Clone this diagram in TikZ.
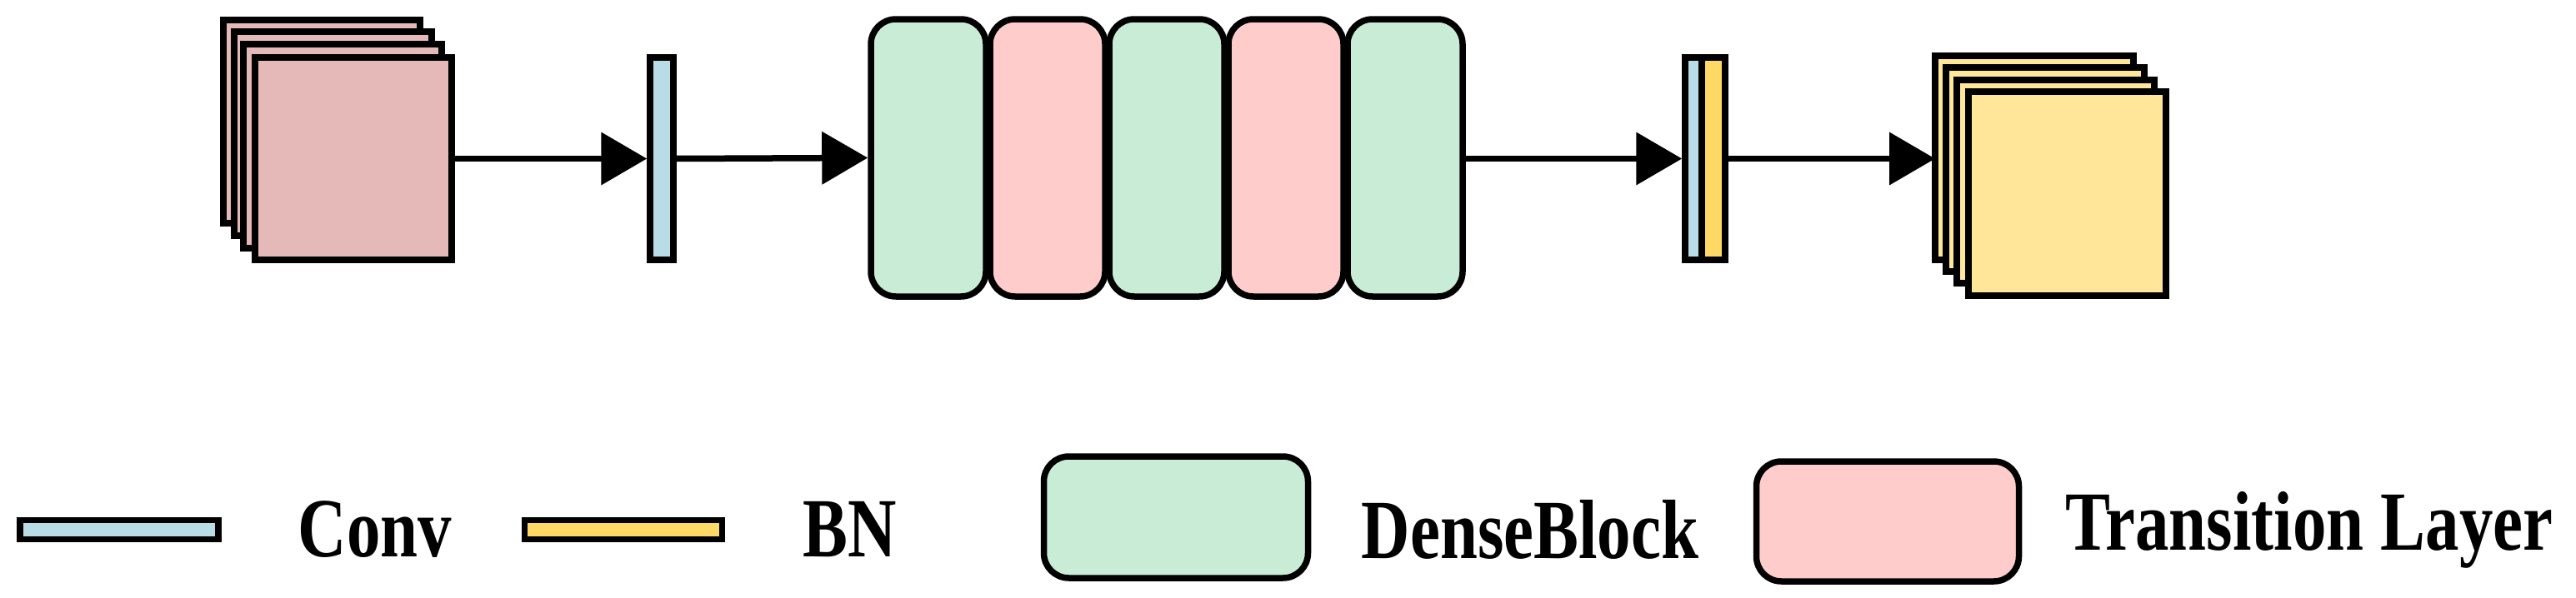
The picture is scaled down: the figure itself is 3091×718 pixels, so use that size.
\documentclass[tikz,border=0pt]{standalone}
\usepackage{fontspec}
\setmainfont{Liberation Serif}
\usetikzlibrary{arrows.meta}
\definecolor{pinkA}{HTML}{E5B9B7}
\definecolor{blueC}{HTML}{B8DDE6}
\definecolor{yelB}{HTML}{FFD966}
\definecolor{yelO}{HTML}{FFE699}
\definecolor{greenD}{HTML}{C8ECD6}
\definecolor{pinkT}{HTML}{FFCCCC}
\begin{document}
\begin{tikzpicture}[x=0.1mm,y=-0.1mm,line width=0.75mm,
  box/.style={draw,inner sep=0,minimum width=#1},
  blk/.style={draw,inner sep=0,rounded corners=3mm,minimum width=13.8mm,minimum height=33.3mm},
  arr/.style={-{Triangle[length=5.5mm,width=6.2mm]}},
  lab/.style={font=\fontsize{23}{23}\selectfont\bfseries,inner sep=0}]
\useasboundingbox (0,0) rectangle (3091,718);
% input stack
\draw[fill=pinkA] (268,24) rectangle (504,268);
\draw[fill=pinkA] (281,38) rectangle (518,283);
\draw[fill=pinkA] (292,53) rectangle (530,298);
\node[box=23.6mm,minimum height=24.3mm,fill=pinkA] (in1) at (424,190.5) {};
% conv
\node[box=2.8mm,minimum height=24.3mm,fill=blueC] (c1) at (794,190.5) {};
% dense/transition
\node[blk,fill=greenD] (d1) at (1114,189.5) {};
\node[blk,fill=pinkT]  (d2) at (1257,189.5) {};
\node[blk,fill=greenD] (d3) at (1400,189.5) {};
\node[blk,fill=pinkT]  (d4) at (1543,189.5) {};
\node[blk,fill=greenD] (d5) at (1686,189.5) {};
% conv + bn
\node[box=2.0mm,minimum height=24.3mm,fill=blueC] (cb) at (2032,190.5) {};
\node[box=2.8mm,minimum height=24.3mm,fill=yelB] (bn) at (2056,190.5) {};
% output stack
\draw[fill=yelO] (2322,67) rectangle (2560,312);
\draw[fill=yelO] (2335,81) rectangle (2573,326);
\draw[fill=yelO] (2348,96) rectangle (2585,340);
\node[box=23.7mm,minimum height=24.5mm,fill=yelO] (out) at (2480.5,232.5) {};
% arrows
\draw[arr] (in1.east |- c1) -- (c1.west);
\draw[arr] (c1.east) -- (d1.west);
\draw[arr] (d5.east |- cb) -- (cb.west);
\draw[arr] (bn.east) -- (bn.east -| 2322,0);
% legend
\node[box=23.8mm,minimum height=2.3mm,fill=blueC] (lc) at (143,636) {};
\node[lab] (tc) at (450,636) {\scalebox{1}[1.25]{Conv}};
\node[box=23.7mm,minimum height=2.3mm,fill=yelB] (lb) at (748,636) {};
\node[lab] (tb) at (1020,636) {\scalebox{1}[1.25]{BN}};
\node[blk,minimum width=31.7mm,minimum height=14.6mm,fill=greenD] (ld) at (1411,621) {};
\node[lab] (td) at (1836,636) {\scalebox{1}[1.25]{DenseBlock}};
\node[blk,minimum width=31.5mm,minimum height=14.4mm,fill=pinkT] (lt) at (2265,626) {};
\node[lab] (tt) at (2771,636) {\scalebox{1}[1.25]{Transition Layer}};
\end{tikzpicture}
\end{document}
